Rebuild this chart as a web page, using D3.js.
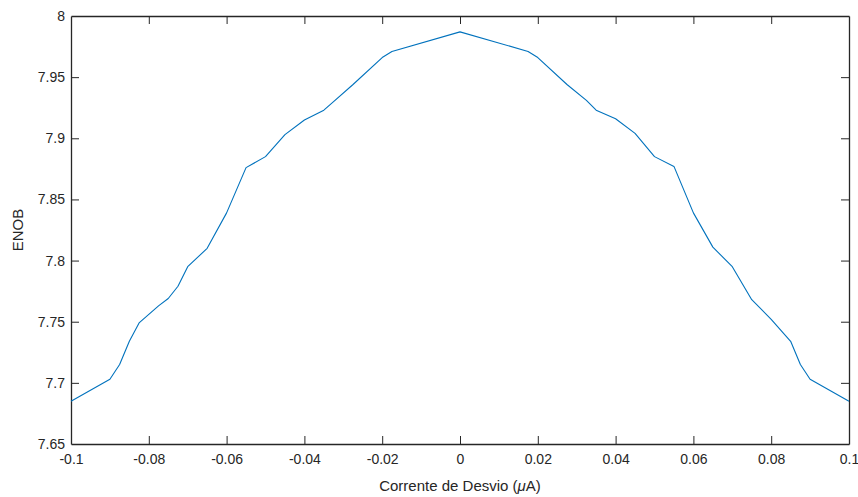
<!DOCTYPE html>
<html>
<head>
<meta charset="utf-8">
<script src="https://cdn.jsdelivr.net/npm/d3@7"></script>
<style>
  html, body { margin: 0; padding: 0; background: #fff; }
  svg { display: block; font-family: "Liberation Sans", Arial, Helvetica, sans-serif; }
</style>
</head>
<body>
<svg id="chart" width="858" height="497"></svg>
<script>
// Bias current (µA) and resulting ENOB
const biasCurrent = [
  -0.1, -0.09, -0.0875, -0.085, -0.0825, -0.0775, -0.075, -0.0725, -0.07, -0.065,
  -0.06, -0.055, -0.05, -0.045, -0.04, -0.035, -0.0325, -0.0275, -0.02, -0.0175,
  0,
  0.0175, 0.02, 0.0275, 0.0325, 0.035, 0.04, 0.045, 0.05, 0.055,
  0.06, 0.065, 0.07, 0.075, 0.08, 0.085, 0.0875, 0.09, 0.1
];
const enob = [
  7.685, 7.703, 7.715, 7.734, 7.749, 7.763, 7.769, 7.779, 7.795, 7.810,
  7.839, 7.876, 7.885, 7.903, 7.915, 7.923, 7.930, 7.944, 7.966, 7.971,
  7.987,
  7.971, 7.966, 7.944, 7.931, 7.923, 7.916, 7.904, 7.885, 7.877,
  7.839, 7.811, 7.795, 7.768, 7.752, 7.734, 7.715, 7.703, 7.685
];
const xTicks = [-0.1, -0.08, -0.06, -0.04, -0.02, 0, 0.02, 0.04, 0.06, 0.08, 0.1];
const yTicks = [7.65, 7.7, 7.75, 7.8, 7.85, 7.9, 7.95, 8];

const svg = d3.select("#chart");
const margin = { left: 71, top: 16, right: 9, bottom: 53 };
const W = 858, H = 497;
const x = d3.scaleLinear().domain([-0.1, 0.1]).range([margin.left, W - margin.right]);
const y = d3.scaleLinear().domain([7.65, 8]).range([H - margin.bottom, margin.top]);

const axisColor = "#262626";
const tickLen = 8;
const fmt = d => (d === 0 ? "0" : String(+d.toFixed(2)));

// Bottom axis with inward ticks
const gx = svg.append("g").attr("transform", `translate(0,${y.range()[0]})`)
  .call(d3.axisBottom(x).tickValues(xTicks).tickFormat(fmt).tickSizeInner(-tickLen).tickSizeOuter(0).tickPadding(10));
// Top axis, ticks only
const gxt = svg.append("g").attr("transform", `translate(0,${y.range()[1]})`)
  .call(d3.axisTop(x).tickValues(xTicks).tickFormat("").tickSizeInner(-tickLen).tickSizeOuter(0));
// Left axis with inward ticks
const gy = svg.append("g").attr("transform", `translate(${x.range()[0]},0)`)
  .call(d3.axisLeft(y).tickValues(yTicks).tickFormat(fmt).tickSizeInner(-tickLen).tickSizeOuter(0).tickPadding(6));
// Right axis, ticks only
const gyr = svg.append("g").attr("transform", `translate(${x.range()[1]},0)`)
  .call(d3.axisRight(y).tickValues(yTicks).tickFormat("").tickSizeInner(-tickLen).tickSizeOuter(0));

[gx, gxt, gy, gyr].forEach(g => {
  g.select(".domain").attr("stroke", axisColor).attr("stroke-width", 1.3);
  g.selectAll(".tick line").attr("stroke", axisColor).attr("stroke-width", 1);
  g.selectAll(".tick text").attr("fill", axisColor).attr("font-size", 14)
    .attr("font-family", "'Liberation Sans', Arial, sans-serif");
});
// Ends of the box ticks at the corners are hidden by the frame anyway
gx.selectAll(".tick").filter(d => d === -0.1 || d === 0.1).select("line").remove();
gxt.selectAll(".tick").filter(d => d === -0.1 || d === 0.1).select("line").remove();
gy.selectAll(".tick").filter(d => d === 7.65 || d === 8).select("line").remove();
gyr.selectAll(".tick").filter(d => d === 7.65 || d === 8).select("line").remove();

// ENOB curve
const line = d3.line().x((d, i) => x(biasCurrent[i])).y(d => y(d));
svg.append("path")
  .datum(enob)
  .attr("fill", "none")
  .attr("stroke", "#0072BD")
  .attr("stroke-width", 1.1)
  .attr("stroke-linejoin", "round")
  .attr("d", line);

// Axis titles
const xTitle = svg.append("text")
  .attr("x", (x.range()[0] + x.range()[1]) / 2)
  .attr("y", 491)
  .attr("text-anchor", "middle")
  .attr("font-size", 15)
  .attr("fill", axisColor);
xTitle.append("tspan").text("Corrente de Desvio (");
xTitle.append("tspan").attr("font-style", "italic").text("\u03BC");
xTitle.append("tspan").text("A)");

svg.append("text")
  .attr("transform", `translate(23,${(y.range()[0] + y.range()[1]) / 2}) rotate(-90)`)
  .attr("text-anchor", "middle")
  .attr("font-size", 15)
  .attr("fill", axisColor)
  .text("ENOB");
</script>
</body>
</html>
